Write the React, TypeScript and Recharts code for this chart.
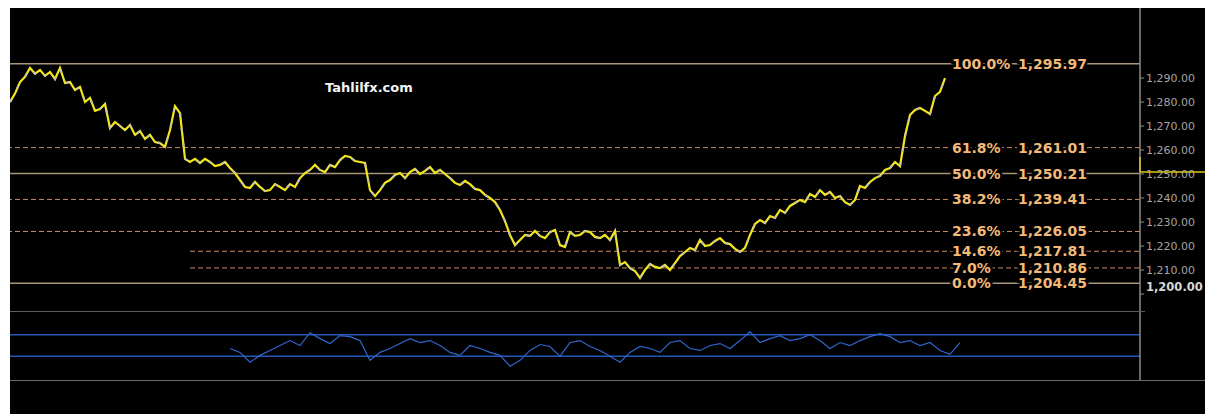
import React from "react";
import { ComposedChart, Line, XAxis, YAxis, ReferenceLine } from "recharts";

// time axis: one bar per step, the last bars are still empty
const barCount = 227;

// price closes, one per bar from the left edge
const price = [
  1280.0, 1283.5, 1288.3, 1290.5, 1294.2, 1291.8, 1293.3, 1290.9, 1292.5, 1289.6,
  1294.2, 1287.9, 1288.3, 1285.0, 1286.3, 1280.0, 1281.7, 1276.3, 1277.1, 1279.2,
  1269.2, 1271.7, 1270.0, 1268.3, 1270.4, 1266.3, 1267.9, 1264.6, 1266.3, 1263.3,
  1262.9, 1261.3, 1268.3, 1278.3, 1275.4, 1256.3, 1255.0, 1256.3, 1254.6, 1256.3,
  1255.0, 1253.3, 1253.8, 1255.0, 1252.5, 1250.4, 1247.5, 1244.6, 1244.2, 1246.7,
  1244.6, 1242.9, 1243.3, 1245.8, 1244.6, 1243.3, 1245.8, 1244.6, 1248.3, 1250.4,
  1251.7, 1253.8, 1251.7, 1250.8, 1253.8, 1252.9, 1255.8, 1257.5, 1257.1, 1255.4,
  1255.0, 1254.6, 1243.3, 1240.8, 1243.3, 1246.3, 1247.5, 1249.6, 1250.4, 1248.3,
  1250.8, 1252.1, 1250.0, 1251.3, 1252.9, 1250.4, 1251.7, 1250.0, 1248.3, 1246.3,
  1245.4, 1247.1, 1245.8, 1243.8, 1243.3, 1241.3, 1240.0, 1238.3, 1235.0, 1230.4,
  1224.6, 1220.4, 1222.5, 1224.6, 1224.2, 1226.3, 1224.2, 1223.3, 1225.8, 1226.7,
  1220.4, 1219.6, 1225.8, 1224.2, 1224.6, 1226.3, 1225.8, 1223.8, 1223.3, 1224.6,
  1222.5, 1226.3, 1212.1, 1213.3, 1210.8, 1209.6, 1206.7, 1210.0, 1212.5, 1211.3,
  1210.8, 1212.1, 1210.0, 1212.9, 1215.8, 1217.5, 1219.2, 1218.3, 1222.5, 1220.0,
  1220.4, 1222.1, 1223.3, 1221.3, 1220.8, 1218.8, 1217.5, 1219.2, 1224.6, 1229.2,
  1230.8, 1229.6, 1232.5, 1231.7, 1235.0, 1233.8, 1236.7, 1237.9, 1239.2, 1238.3,
  1241.7, 1240.4, 1243.3, 1241.3, 1242.5, 1240.0, 1240.8, 1238.3, 1237.1, 1239.2,
  1245.0, 1244.2, 1246.7, 1248.3, 1249.2, 1251.7, 1252.5, 1255.0, 1253.3, 1265.8,
  1274.6, 1276.7, 1277.5, 1276.3, 1275.0, 1282.5, 1284.2, 1290.0,
];

// oscillator pane: sampled every second bar, starting later than the price
const rsiStart = 44;
const rsiStep = 2;
const rsi = [
  44.5, 37.3, 19.1, 31.8, 40.9, 50.0, 59.1, 50.0, 73.6, 62.7,
  53.6, 68.2, 66.4, 59.1, 22.7, 37.3, 44.5, 53.6, 62.7, 55.5,
  59.1, 50.0, 37.3, 31.8, 50.0, 44.5, 37.3, 31.8, 11.8, 22.7,
  40.9, 51.8, 48.2, 30.0, 55.5, 59.1, 48.2, 40.9, 30.0, 19.1,
  37.3, 48.2, 44.5, 37.3, 55.5, 59.1, 44.5, 40.9, 50.0, 53.6,
  44.5, 59.1, 75.5, 55.5, 62.7, 68.2, 59.1, 62.7, 70.0, 59.1,
  44.5, 55.5, 50.0, 59.1, 66.4, 71.8, 66.4, 55.5, 59.1, 50.0,
  55.5, 40.9, 33.6, 55.5,
];

// fibonacci retracement levels
const fibPct = ["100.0%", "61.8%", "50.0%", "38.2%", "23.6%", "14.6%", "7.0%", "0.0%"];
const fibVal = [1295.97, 1261.01, 1250.21, 1239.41, 1226.05, 1217.81, 1210.86, 1204.45];
const fibSolid = [true, false, true, false, false, false, false, true];
const fibFrom = [0, 0, 0, 0, 0, 36, 36, 0];

const priceTicks = [1200, 1210, 1220, 1230, 1240, 1250, 1260, 1270, 1280, 1290];
const rsiBands = [70, 30];

const priceRows = price.map((p, i) => ({ i, price: p }));
const rsiRows = rsi.map((r, k) => ({ i: rsiStart + k * rsiStep, rsi: r }));

const fmt = (v: number) =>
  v.toLocaleString("en-US", { minimumFractionDigits: 2, maximumFractionDigits: 2 });

const FibLabel = (pct: string, val: number) => (props: any) => {
  const y = props.viewBox.y;
  const common = {
    y,
    dy: 5,
    fill: "#f2b978",
    fontSize: 14,
    fontWeight: 700,
    fontFamily: "DejaVu Sans",
    stroke: "#000",
    strokeWidth: 5,
    paintOrder: "stroke" as any,
  };
  return (
    <g>
      <text x={942} {...common}>{pct}</text>
      <text x={1008} {...common}>{fmt(val)}</text>
    </g>
  );
};

const PriceTick = (props: any) => {
  const { x, y, payload } = props;
  const v = payload.value;
  const last = v === 1200;
  return (
    <g>
      <text
        x={x}
        y={last ? y - 7 : y}
        dy={4}
        fill={last ? "#d8d8d8" : "#a4a4a4"}
        fontSize={last ? 11.5 : 11}
        fontWeight={last ? 700 : 400}
        fontFamily="DejaVu Sans"
      >
        {fmt(v)}
      </text>
      {v === 1250 && (
        <g stroke="#d8c820" strokeWidth={1.5}>
          <line x1={x - 6} y1={y - 2} x2={x + 70} y2={y - 2} />
          <line x1={x - 6} y1={y - 17} x2={x - 6} y2={y - 2} />
        </g>
      )}
    </g>
  );
};

export default function App() {
  return (
    <div style={{ position: "absolute", left: 10, top: 8, width: 1195, height: 406, background: "#000" }}>
      <div
        style={{
          position: "absolute",
          left: 315,
          top: 72,
          color: "#f4f4f4",
          fontFamily: "DejaVu Sans",
          fontWeight: 700,
          fontSize: 13,
        }}
      >
        Tahlilfx.com
      </div>
      <ComposedChart width={1195} height={303} data={priceRows} margin={{ top: 0, right: 0, bottom: 0, left: 0 }}>
        <XAxis dataKey="i" type="number" domain={[0, barCount - 1]} hide />
        <YAxis
          orientation="right"
          width={65}
          domain={[1192.92, 1319.17]}
          ticks={priceTicks}
          tick={PriceTick}
          tickSize={4}
          tickLine={{ stroke: "#8c8c8c" }}
          axisLine={{ stroke: "#8c8c8c", strokeWidth: 1.5 }}
          allowDataOverflow
        />
        {fibVal.map((v, k) =>
          fibFrom[k] > 0 ? (
            <ReferenceLine
              key={k}
              segment={[{ x: fibFrom[k], y: v }, { x: barCount - 1, y: v }]}
              stroke="#c88a66"
              strokeDasharray="5 3"
              label={FibLabel(fibPct[k], v)}
            />
          ) : (
            <ReferenceLine
              key={k}
              y={v}
              stroke={fibSolid[k] ? "#a8957a" : "#c88a66"}
              strokeWidth={fibSolid[k] ? 1.5 : 1}
              strokeDasharray={fibSolid[k] ? undefined : "5 3"}
              label={FibLabel(fibPct[k], v)}
            />
          )
        )}
        <Line
          dataKey="price"
          type="linear"
          stroke="#f2e620"
          strokeWidth={2.2}
          dot={false}
          isAnimationActive={false}
        />
        <Line
          dataKey="price"
          type="linear"
          stroke="#bcbcc8"
          strokeWidth={2}
          strokeDasharray="3 12"
          dot={false}
          isAnimationActive={false}
        />
      </ComposedChart>
      <div style={{ width: 1135, borderTop: "1px solid #5c5c5c", height: 0 }} />
      <ComposedChart width={1195} height={68} data={rsiRows} margin={{ top: 0, right: 0, bottom: 0, left: 0 }}>
        <XAxis dataKey="i" type="number" domain={[0, barCount - 1]} hide />
        <YAxis
          orientation="right"
          width={65}
          domain={[-13.6, 111.8]}
          tick={false}
          tickLine={false}
          axisLine={{ stroke: "#8c8c8c", strokeWidth: 1.5 }}
        />
        {rsiBands.map((b) => (
          <ReferenceLine key={b} y={b} stroke="#2458b8" strokeWidth={1.5} />
        ))}
        <Line
          dataKey="rsi"
          type="linear"
          stroke="#2f66cc"
          strokeWidth={1.2}
          dot={false}
          isAnimationActive={false}
        />
      </ComposedChart>
      <div style={{ borderTop: "1px solid #6a6a6a", height: 33 }} />
    </div>
  );
}
